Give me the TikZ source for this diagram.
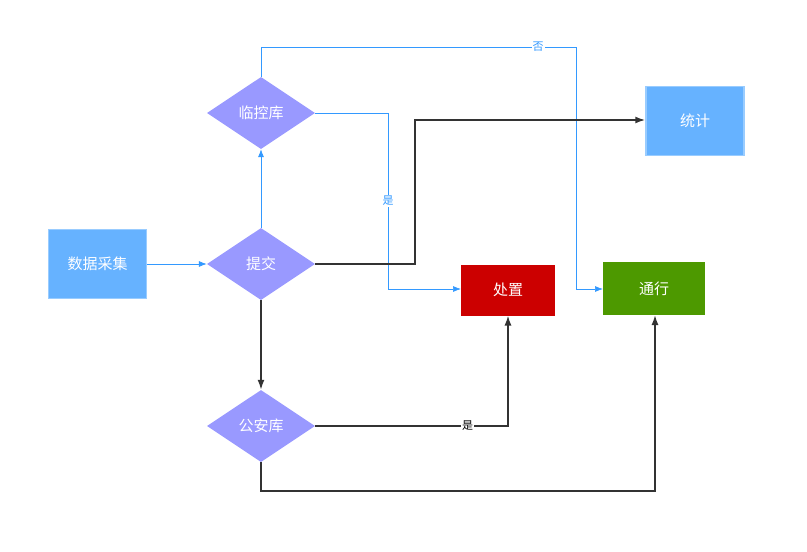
\documentclass[tikz,border=0pt]{standalone}
\usepackage{fontspec}
\setmainfont{Noto Sans CJK SC}
\usetikzlibrary{shapes.geometric,arrows.meta}
\definecolor{bbox}{HTML}{66B2FF}
\definecolor{bedge}{HTML}{99CCFF}
\definecolor{dia}{HTML}{9999FF}
\definecolor{redb}{HTML}{CC0000}
\definecolor{grnb}{HTML}{4D9900}
\definecolor{bline}{HTML}{3399FF}
\definecolor{kline}{HTML}{333333}
\begin{document}
\begin{tikzpicture}[x=1pt,y=-1pt,
 box/.style={draw=bedge,line width=1.5pt,fill=bbox,minimum width=98pt,minimum height=69pt,text=white,font=\fontsize{15}{15}\selectfont,inner sep=0},
 dm/.style={diamond,aspect=1.5,fill=dia,minimum width=108pt,minimum height=72pt,inner sep=0,text=white,font=\fontsize{15}{15}\selectfont},
 res/.style={minimum height=51pt,text=white,font=\fontsize{15}{15}\selectfont,inner sep=0},
 bl/.style={bline,line width=0.7pt,-{Latex[length=8pt,width=6pt]}},
 kl/.style={kline,line width=1.6pt,-{Latex[length=10pt,width=7pt]}},
 lab/.style={fill=white,inner sep=1pt,font=\fontsize{11}{11}\selectfont}]
\useasboundingbox (0,0) rectangle (807,552);
\node[box] (cj) at (97.5,264) {数据采集};
\node[dm] (tj) at (261,264) {提交};
\node[dm] (lk) at (261,113) {临控库};
\node[dm] (ga) at (261,426) {公安库};
\node[box] (tt) at (695,121) {统计};
\node[res,fill=redb,minimum width=94pt] (cz) at (508,290) {处置};
\node[res,fill=grnb,minimum width=102pt,minimum height=53pt] (tx) at (654,288.5) {通行};
\coordinate (txl) at (603,289);
\coordinate (czl) at (461,289);
\coordinate (czb) at (508,315.5);
\coordinate (txb) at (655,315);
\draw[bl] (cj) -- (tj);
\draw[bl] (tj) -- (lk);
\draw[bl] (lk.north) -- (261,47) -- node[lab,text=bline,pos=0.88]{否} (576,47) -- (576,289) -- (txl);
\draw[bl] (lk.east) -- (388,113) -- node[lab,text=bline,pos=0.5]{是} (388,289) -- (czl);
\draw[kl] (tj.east) -- (415,264) -- (415,120) -- (tt.west|-0,120);
\draw[kl] (tj) -- (ga);
\draw[kl] (ga.east) -- node[lab,text=black,pos=0.79]{是} (508,426) -- (czb);
\draw[kl] (ga.south) -- (261,491) -- (655,491) -- (txb);
\end{tikzpicture}
\end{document}
